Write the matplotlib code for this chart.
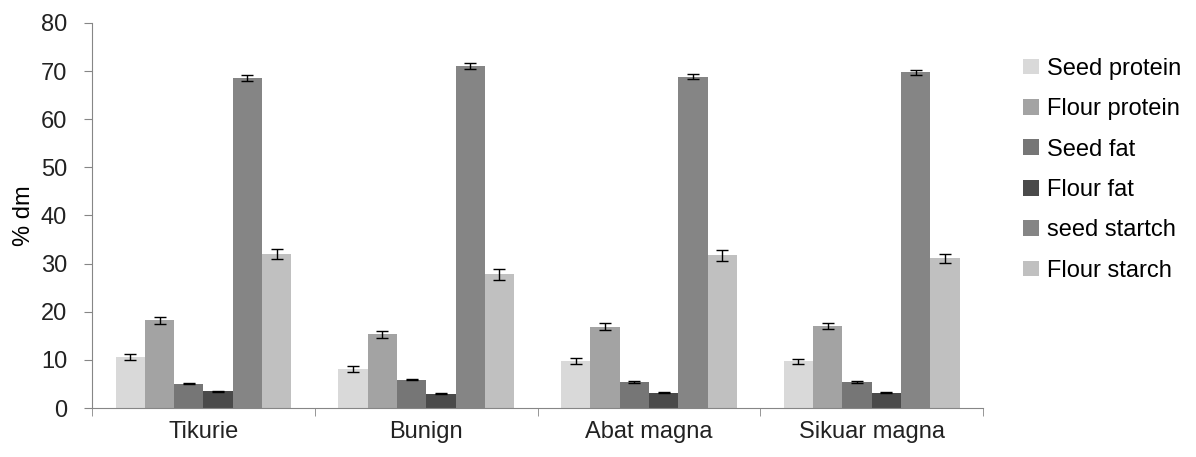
import numpy as np
import matplotlib.pyplot as plt

# Sorten und Messgrößen
sorten = ["Tikurie", "Bunign", "Abat magna", "Sikuar magna"]
parameter = ["Seed protein", "Flour protein", "Seed fat", "Flour fat", "seed startch", "Flour starch"]

# Mittelwerte (% dm) je Parameter, Reihenfolge wie sorten
seed_protein = [10.6, 8.2, 9.8, 9.7]
flour_protein = [18.2, 15.3, 16.9, 17.1]
seed_fat = [5.1, 5.9, 5.4, 5.4]
flour_fat = [3.5, 3.0, 3.2, 3.2]
seed_starch = [68.5, 71.1, 68.8, 69.7]
flour_starch = [32.0, 27.8, 31.7, 31.1]

# Standardabweichungen
sd_seed_protein = [0.6, 0.6, 0.6, 0.5]
sd_flour_protein = [0.8, 0.7, 0.7, 0.6]
sd_seed_fat = [0.15, 0.15, 0.15, 0.15]
sd_flour_fat = [0.15, 0.1, 0.1, 0.1]
sd_seed_starch = [0.6, 0.6, 0.5, 0.5]
sd_flour_starch = [1.1, 1.1, 1.2, 1.0]

werte = [seed_protein, flour_protein, seed_fat, flour_fat, seed_starch, flour_starch]
fehler = [sd_seed_protein, sd_flour_protein, sd_seed_fat, sd_flour_fat, sd_seed_starch, sd_flour_starch]
farben = ["#d9d9d9", "#a3a3a3", "#767676", "#4a4a4a", "#858585", "#c0c0c0"]

plt.rcParams['font.family'] = ['Liberation Sans', 'DejaVu Sans']

fig = plt.figure(figsize=(11.96, 4.57), dpi=100)
ax = fig.add_axes([0.077, 0.107, 0.745, 0.843])

x = np.arange(len(sorten))
breite = 1 / 7.6
for i, (name, w, sd, c) in enumerate(zip(parameter, werte, fehler, farben)):
    pos = x + (i - 2.5) * breite
    ax.bar(pos, w, breite, color=c, label=name)
    ax.errorbar(pos, w, yerr=sd, fmt="none", ecolor="black", elinewidth=1, capsize=4, capthick=1)

ax.set_xlim(-0.5, len(sorten) - 0.5)
ax.set_ylim(0, 80)
ax.set_yticks(range(0, 81, 10))
ax.set_xticks(x)
ax.set_xticklabels(sorten)
ax.set_xticks(np.arange(-0.5, len(sorten)), minor=True)
ax.tick_params(axis="x", which="major", length=0, pad=9)
ax.tick_params(axis="x", which="minor", length=6, color="#868686", direction="out")
ax.tick_params(axis="y", length=6, color="#868686", direction="out", pad=12)
ax.tick_params(labelsize=17, labelcolor="#222222")
ax.set_ylabel("% dm", fontsize=17, labelpad=4)

for s in ["top", "right"]:
    ax.spines[s].set_visible(False)
for s in ["left", "bottom"]:
    ax.spines[s].set_color("#868686")

fig.legend(loc="upper left", bbox_to_anchor=(0.838, 0.92), frameon=False, fontsize=17,
           handlelength=0.65, handleheight=0.65, handletextpad=0.35, labelspacing=0.78)

plt.savefig("out.png", dpi=100)
